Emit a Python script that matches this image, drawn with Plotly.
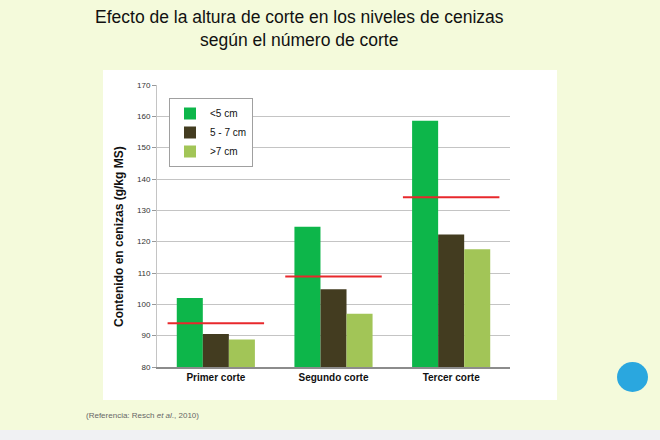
import plotly.graph_objects as go

categories = ["Primer corte", "Segundo corte", "Tercer corte"]
series_names = ["<5 cm", "5 - 7 cm", ">7 cm"]
vals_lt5 = [102.0, 124.8, 158.6]
vals_5_7 = [90.5, 104.8, 122.3]
vals_gt7 = [88.8, 97.0, 117.6]
mean_line = [94.0, 108.9, 134.2]
y_ticks = [80, 90, 100, 110, 120, 130, 140, 150, 160, 170]

colors = ["#0db64a", "#433c20", "#a2c557"]
FONT = "Liberation Sans, Arial, sans-serif"

# plot area in pixels
L, R, T, B = 157, 150, 85, 73
W, H = 660, 440
pw, ph = W - L - R, H - T - B


def px(x):
    return (x - L) / pw


def py(y):
    return (H - B - y) / ph


fig = go.Figure()
xs = list(range(len(categories)))
for name, vals, c in zip(series_names, [vals_lt5, vals_5_7, vals_gt7], colors):
    fig.add_trace(go.Bar(x=xs, y=vals, name=name, marker=dict(color=c, line=dict(width=0))))

lx, ly = [], []
for i, m in enumerate(mean_line):
    lx += [i - 0.41, i + 0.41, None]
    ly += [m, m, None]
fig.add_trace(go.Scatter(x=lx, y=ly, mode="lines", line=dict(color="#e8282c", width=2),
                         showlegend=False, hoverinfo="skip"))

shapes = [
    # white panel
    dict(type="rect", xref="paper", yref="paper", x0=px(103), x1=px(557), y0=py(400), y1=py(70),
         fillcolor="white", line=dict(width=0), layer="below"),
    # bottom grey strip
    dict(type="rect", xref="paper", yref="paper", x0=px(0), x1=px(660), y0=py(440), y1=py(430),
         fillcolor="#f0f1f3", line=dict(width=0), layer="below"),
    # logo circle
    dict(type="circle", xref="paper", yref="paper", x0=px(617), x1=px(648), y0=py(392), y1=py(362),
         fillcolor="#2aa7df", line=dict(width=0), layer="above"),
]

annotations = [
    dict(text="Efecto de la altura de corte en los niveles de cenizas", x=px(299), y=py(17),
         xref="paper", yref="paper", showarrow=False, xanchor="center", yanchor="middle",
         font=dict(family=FONT, size=17.5, color="#111111")),
    dict(text="según el número de corte", x=px(299), y=py(40),
         xref="paper", yref="paper", showarrow=False, xanchor="center", yanchor="middle",
         font=dict(family=FONT, size=17.5, color="#111111")),
    dict(text="<b>Contenido en cenizas (g/kg MS)</b>", x=px(119), y=py(237), textangle=-90,
         xref="paper", yref="paper", showarrow=False, xanchor="center", yanchor="middle",
         font=dict(family=FONT, size=12, color="#111111")),
    dict(text="(Referencia: Resch <i>et al</i>., 2010)", x=px(84), y=py(415),
         xref="paper", yref="paper", showarrow=False, xanchor="left", yanchor="middle",
         font=dict(family=FONT, size=8, color="#666666")),
]

fig.update_layout(
    width=W, height=H,
    margin=dict(l=L, r=R, t=T, b=B, pad=0),
    paper_bgcolor="#f4fadb",
    plot_bgcolor="white",
    barmode="group", bargap=0.336, bargroupgap=0,
    font=dict(family=FONT, color="#111111"),
    shapes=shapes,
    annotations=annotations,
    legend=dict(x=px(169), y=py(98), xanchor="left", yanchor="top",
                bgcolor="white", bordercolor="#a0a0a0", borderwidth=1,
                font=dict(family=FONT, size=10, color="#111111"),
                tracegroupgap=2, itemwidth=30),
    xaxis=dict(tickvals=xs, ticktext=["<b>%s</b>" % c for c in categories], range=[-0.5, 2.5],
               showgrid=False, zeroline=False, showline=True, linecolor="#8c8c8c", linewidth=1.5,
               tickfont=dict(family=FONT, size=10, color="#111111"), ticks=""),
    yaxis=dict(range=[80, 170], tickvals=y_ticks, showgrid=True, gridcolor="#c4c4c4", gridwidth=1,
               zeroline=False, showline=True, linecolor="#c4c4c4", linewidth=1,
               ticks="outside", ticklen=4, tickcolor="#999999",
               tickfont=dict(family=FONT, size=8, color="#333333")),
    showlegend=True,
)

fig.write_html("out.html")
